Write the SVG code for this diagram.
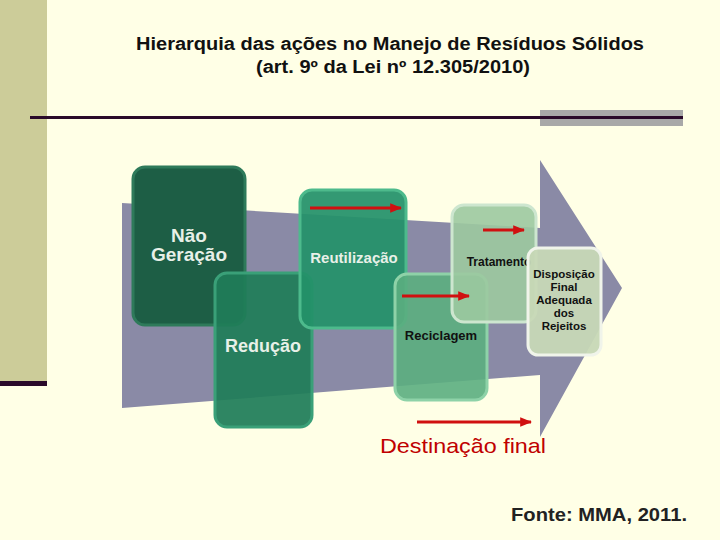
<svg xmlns="http://www.w3.org/2000/svg" width="720" height="540" viewBox="0 0 720 540">
<defs>
<marker id="ah" viewBox="0 0 10 10" refX="9" refY="5" markerWidth="4" markerHeight="4" orient="auto"><path d="M0,1 L10,5 L0,9 z" fill="#d01010"/></marker>
</defs>
<style>
.box{stroke-width:3;}
.w{font-family:"Liberation Sans",Arial,sans-serif;font-weight:bold;fill:#e8f0e8;text-anchor:middle}
.b{font-family:"Liberation Sans",Arial,sans-serif;font-weight:bold;fill:#111;text-anchor:middle}
.red{stroke:#d01010;stroke-width:3;marker-end:url(#ah)}
</style>
<rect width="720" height="540" fill="#FFFFE6"/>
<rect x="0" y="0" width="47" height="383" fill="#CCCC99"/>
<rect x="0" y="381" width="47" height="5" fill="#2a0a2a"/>
<rect x="540" y="110" width="143" height="16" fill="#A8A8A8"/>
<rect x="30" y="116" width="653" height="3" fill="#2a0a2a"/>
<text x="390" y="50" class="b" font-size="18" textLength="508" lengthAdjust="spacingAndGlyphs">Hierarquia das ações no Manejo de Resíduos Sólidos</text>
<text x="393" y="73" class="b" font-size="18" textLength="274" lengthAdjust="spacingAndGlyphs">(art. 9º da Lei nº 12.305/2010)</text>
<path id="bigarrow" d="M122,203 L540,228 L540,160 L622,288 L540,437 L540,375 L122,408 Z" fill="#8A8AA6"/>
<g id="n1"><rect class="box" x="133" y="167" width="112" height="158" rx="12" fill="#1D5E45" stroke="#2E7A5A"/><text class="w" x="189" y="242" font-size="19">Não</text><text class="w" x="189" y="261" font-size="19">Geração</text></g>
<g id="n2"><rect class="box" x="215" y="273" width="97" height="154" rx="12" fill="#1F7D58" stroke="#3AA078" fill-opacity="0.93"/><text class="w" x="263" y="352" font-size="18">Redução</text></g>
<g id="n3"><rect class="box" x="300" y="190" width="106" height="138" rx="12" fill="#239169" stroke="#4DBA8C" fill-opacity="0.93"/><text class="w" x="354" y="263" font-size="15">Reutilização</text></g>
<g id="n4"><rect class="box" x="395" y="274" width="92" height="126" rx="12" fill="#5BAE80" stroke="#8ED2A8" fill-opacity="0.9"/><text class="b" x="441" y="340" font-size="13">Reciclagem</text></g>
<g id="n5"><rect class="box" x="452" y="205" width="84" height="117" rx="12" fill="#9CC9A0" stroke="#CDE6CF" fill-opacity="0.9"/><text class="b" x="499" y="266" font-size="12">Tratamento</text></g>
<g id="n6"><rect class="box" x="528" y="248" width="73" height="107" rx="10" fill="#C7D8B6" stroke="#F0F4EA" fill-opacity="0.95"/>
<text class="b" x="564" y="278" font-size="11.5">Disposição</text><text class="b" x="564" y="291" font-size="11.5">Final</text><text class="b" x="564" y="304" font-size="11.5">Adequada</text><text class="b" x="564" y="317" font-size="11.5">dos</text><text class="b" x="564" y="330" font-size="11.5">Rejeitos</text></g>
<g id="connectors">
<line class="red" x1="310" y1="208" x2="401" y2="208"/>
<line class="red" x1="483" y1="230" x2="524" y2="230"/>
<line class="red" x1="402" y1="296" x2="469" y2="296"/>
<line class="red" x1="417" y1="422" x2="531" y2="422"/>
</g>
<text x="463" y="453" font-family="Liberation Sans,Arial,sans-serif" font-size="21" fill="#C00000" text-anchor="middle" textLength="166" lengthAdjust="spacingAndGlyphs">Destinação final</text>
<text x="687" y="521" font-family="Liberation Sans,Arial,sans-serif" font-weight="bold" font-size="19" fill="#222" text-anchor="end" textLength="176" lengthAdjust="spacingAndGlyphs">Fonte: MMA, 2011.</text>
</svg>
